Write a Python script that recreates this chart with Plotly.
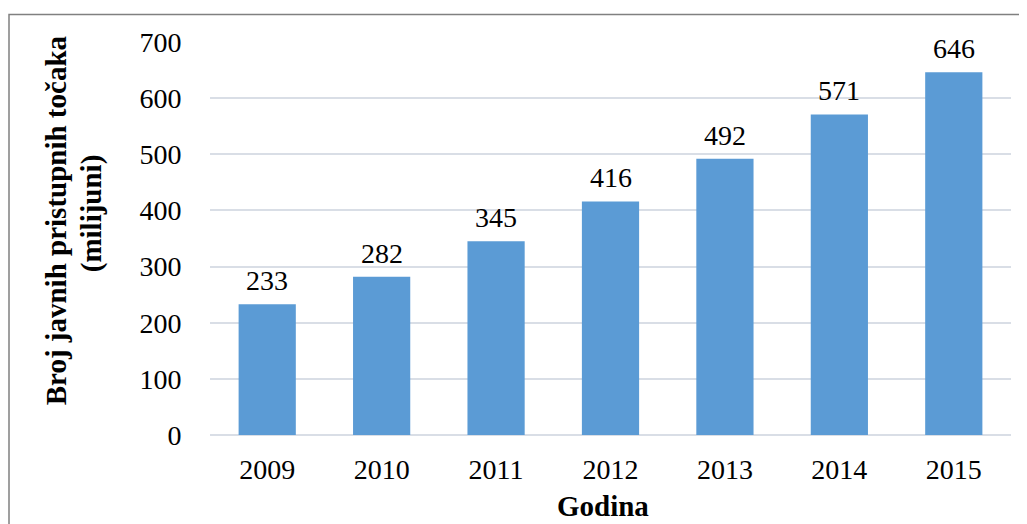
import plotly.graph_objects as go

years = ["2009", "2010", "2011", "2012", "2013", "2014", "2015"]
values = [233, 282, 345, 416, 492, 571, 646]
y_ticks = [0, 100, 200, 300, 400, 500, 600, 700]
y_title_1 = "Broj javnih pristupnih točaka"
y_title_2 = "(milijuni)"
x_title = "Godina"

# page offset (body margin) ~7px
OFF = 7
W, H = 1027 - OFF, 524 - OFF
ml, mt = 209 - OFF, 40.5 - OFF
pw, ph = 801, 393.5
mr = W - ml - pw
mb = H - mt - ph

FONT = "Liberation Serif"
xpos = list(range(len(years)))

fig = go.Figure()
fig.add_trace(go.Bar(
    x=xpos, y=values,
    marker=dict(color="#5B9BD5", line=dict(width=0)),
    width=0.5,
    hoverinfo="y",
))

for xi, v in zip(xpos, values):
    fig.add_annotation(x=xi, y=v, text=str(v), showarrow=False,
                       yanchor="bottom", yshift=6,
                       font=dict(family=FONT, size=28, color="#000000"))

def px_x(p):
    return (p - OFF - ml) / pw
def px_y(p):
    return 1 - (p - OFF - mt) / ph

# axis titles placed as annotations (page-pixel positions)
fig.add_annotation(xref="paper", yref="paper", x=px_x(55), y=px_y(219),
                   text="<b>" + y_title_1 + "</b>", textangle=-90, showarrow=False,
                   xanchor="center", yanchor="middle",
                   font=dict(family=FONT, size=29, color="#000000"))
fig.add_annotation(xref="paper", yref="paper", x=px_x(90), y=px_y(212),
                   text="<b>" + y_title_2 + "</b>", textangle=-90, showarrow=False,
                   xanchor="center", yanchor="middle",
                   font=dict(family=FONT, size=29, color="#000000"))
fig.add_annotation(xref="paper", yref="paper", x=px_x(602), y=px_y(505),
                   text="<b>" + x_title + "</b>", showarrow=False,
                   xanchor="center", yanchor="middle",
                   font=dict(family=FONT, size=29, color="#000000"))

fig.add_shape(type="rect", xref="paper", yref="paper",
              x0=px_x(8), x1=px_x(1045), y0=px_y(545), y1=px_y(13),
              line=dict(color="#808080", width=1.5), layer="below")

fig.update_layout(
    width=W, height=H,
    margin=dict(l=ml, r=mr, t=mt, b=mb, pad=0, autoexpand=False),
    paper_bgcolor="white", plot_bgcolor="white",
    font=dict(family=FONT, size=28, color="#000000"),
    showlegend=False,
    xaxis=dict(
        automargin=False,
        range=[-0.5, len(years) - 0.5],
        tickvals=xpos, ticktext=years,
        showgrid=False, zeroline=False, showline=False,
        ticks="outside", ticklen=9, tickcolor="rgba(0,0,0,0)",
        tickfont=dict(family=FONT, size=28, color="#000000"),
    ),
    yaxis=dict(
        automargin=False,
        range=[0, 700], tickvals=y_ticks,
        showgrid=True, gridcolor="#D9DEE6", gridwidth=1.5,
        zeroline=True, zerolinecolor="#D9DEE6", zerolinewidth=1.5,
        showline=False, ticks="outside", ticklen=22, tickcolor="rgba(0,0,0,0)",
        tickfont=dict(family=FONT, size=28, color="#000000"),
    ),
)

fig.write_html("out.html")
